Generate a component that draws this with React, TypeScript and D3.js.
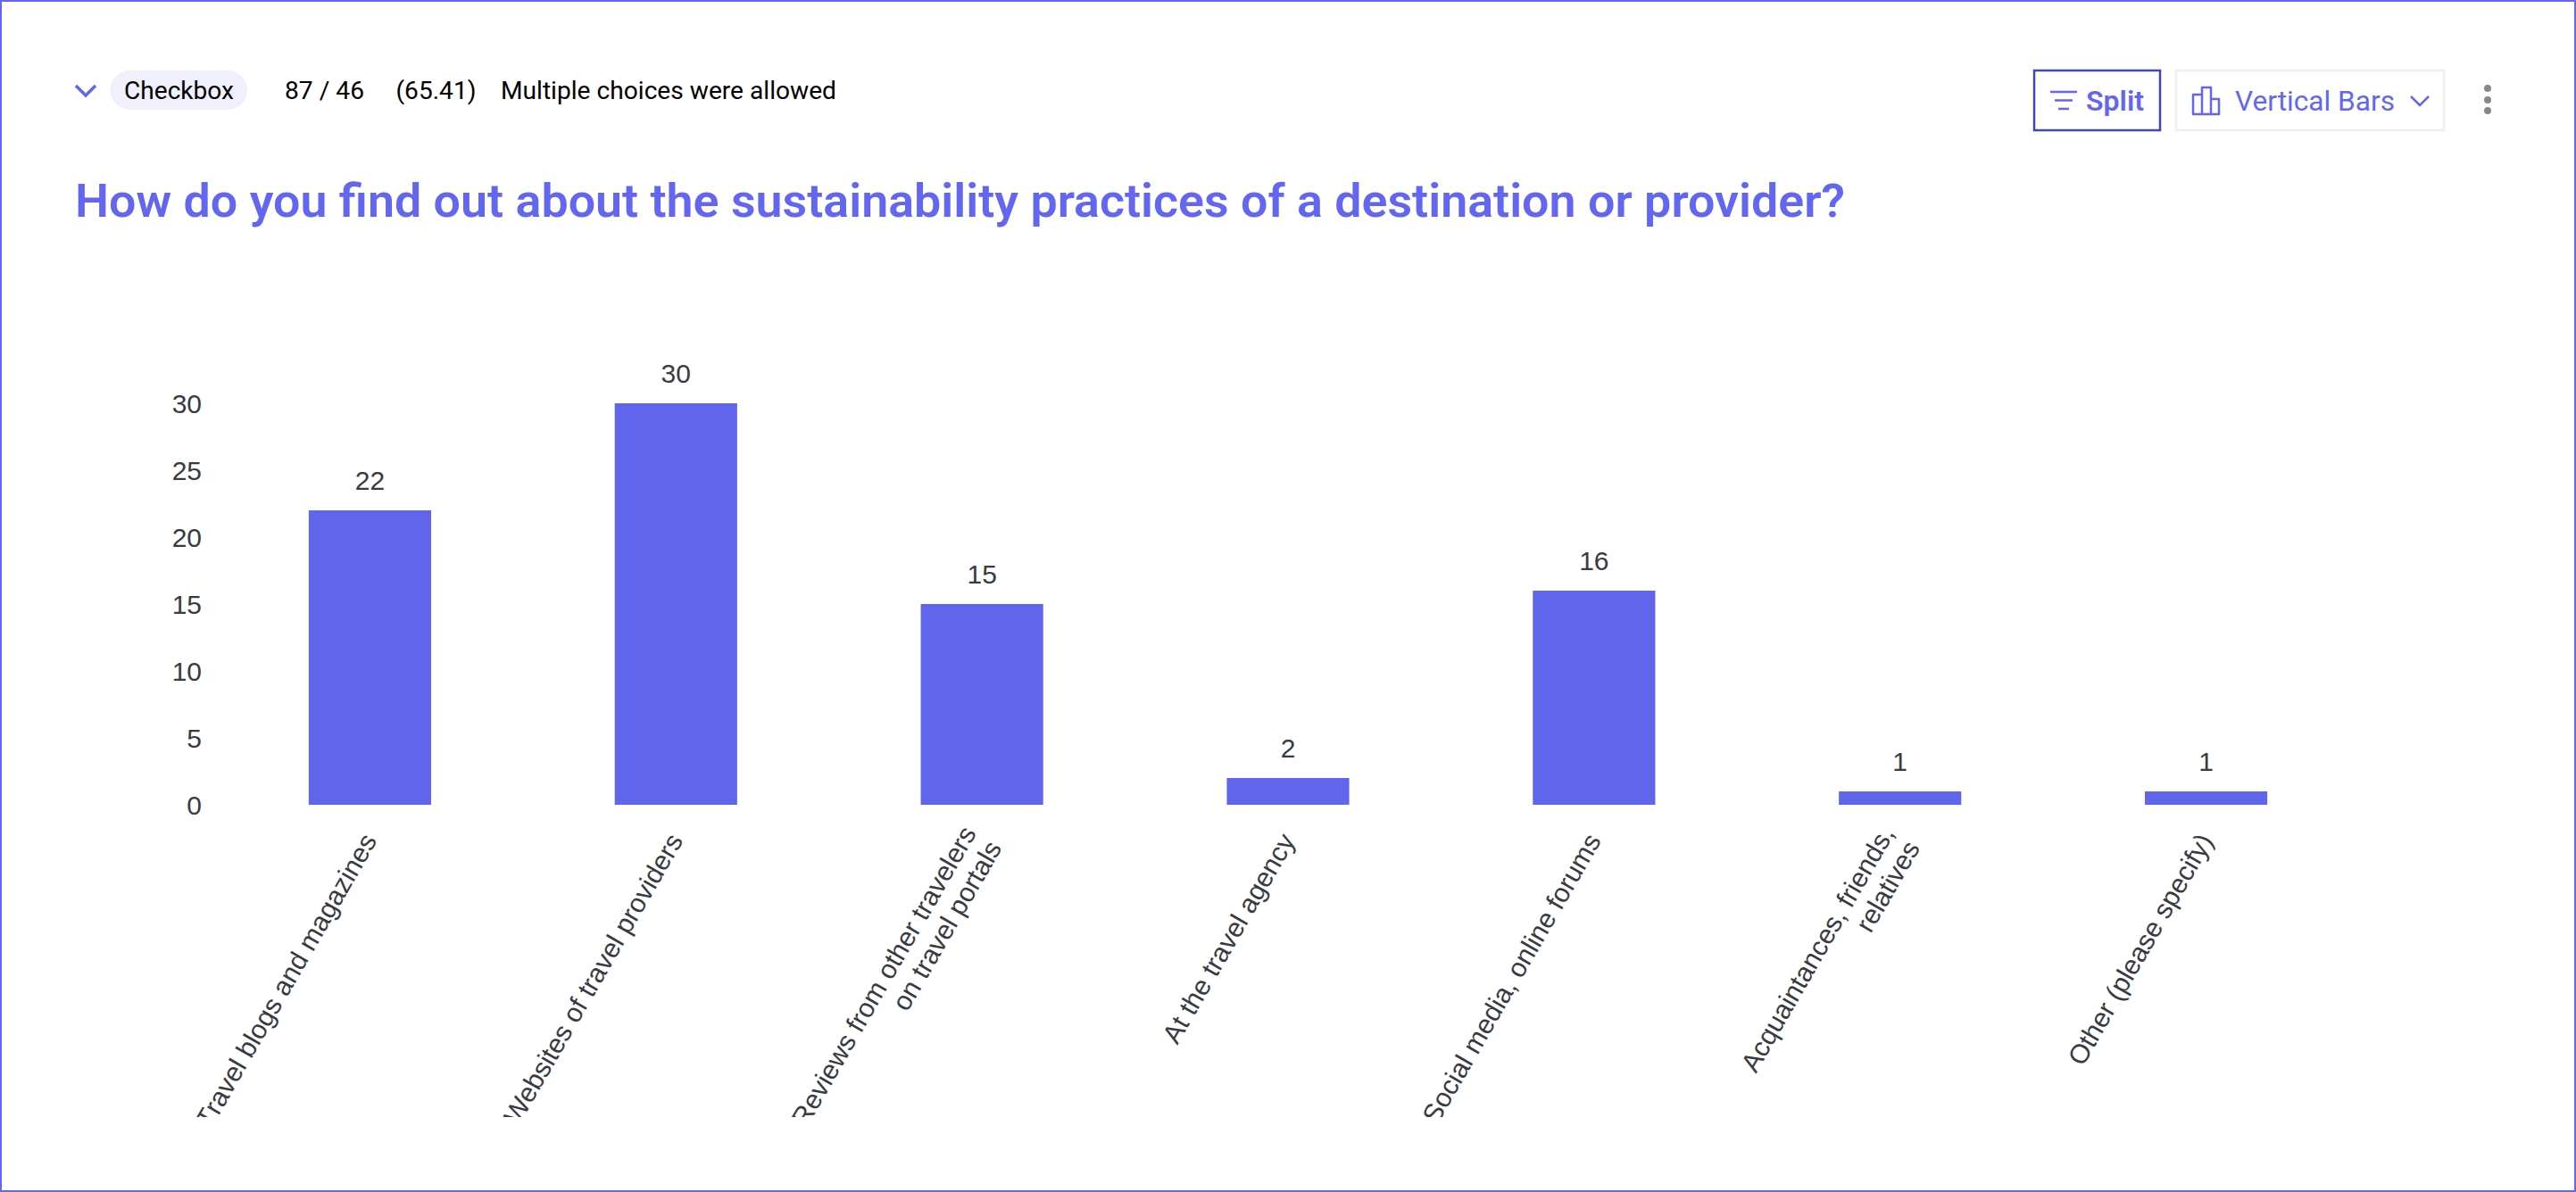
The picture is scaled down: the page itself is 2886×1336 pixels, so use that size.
import React from "react";
import * as d3 from "d3";

const categories: string[][] = [
  ["Travel blogs and magazines"],
  ["Websites of travel providers"],
  ["Reviews from other travelers", "on travel portals"],
  ["At the travel agency"],
  ["Social media, online forums"],
  ["Acquaintances, friends,", "relatives"],
  ["Other (please specify)"],
];
const seriesValues: number[] = [22, 30, 15, 2, 16, 1, 1];
const yTicks: number[] = [0, 5, 10, 15, 20, 25, 30];
const titleText = "How do you find out about the sustainability practices of a destination or provider?";

const W = 2886;
const H = 1336;
const ACCENT = "#6366F1";
const BAR = "#6165EC";
const INK = "#3A3A42";
const UI = "'Roboto', 'Noto Sans', sans-serif";
const CHART = "'Liberation Sans', Arial, sans-serif";
const ANGLE = -60;

export default function App() {
  const x = d3.scaleBand<number>().domain(d3.range(categories.length)).range([243, 2643]).paddingInner(0.6).paddingOuter(0.3);
  const y = d3.scaleLinear().domain([0, 30]).range([902, 452]);

  return (
    <svg width={W} height={H} viewBox={`0 0 ${W} ${H}`} style={{ position: "absolute", left: 0, top: 0, display: "block", background: "#fff" }}>
      <defs>
        <clipPath id="plot"><rect x={0} y={0} width={W} height={1252} /></clipPath>
      </defs>
      <rect x={1} y={1} width={W - 2} height={H - 2} fill="#fff" stroke={ACCENT} strokeWidth={2} />

      {/* header row */}
      <path d="M85 96 L96 107 L107 96" fill="none" stroke={ACCENT} strokeWidth={3.5} />
      <rect x={123.5} y={79} width={153.5} height={44} rx={22} fill="#EFF0FB" />
      <g fontFamily={UI} fontSize={28} fill="#000">
        <text x={139} y={111} textLength={123} lengthAdjust="spacingAndGlyphs">Checkbox</text>
        <text x={319} y={111} textLength={89} lengthAdjust="spacingAndGlyphs">87 / 46</text>
        <text x={443.5} y={111} textLength={90} lengthAdjust="spacingAndGlyphs">(65.41)</text>
        <text x={561} y={111} textLength={376} lengthAdjust="spacingAndGlyphs">Multiple choices were allowed</text>
      </g>
      <text x={84} y={243} fontFamily={UI} fontSize={52} fontWeight={600} fill={ACCENT} textLength={1983} lengthAdjust="spacingAndGlyphs">{titleText}</text>

      {/* toolbar */}
      <rect x={2279} y={79} width={141} height={67} fill="none" stroke="#4347B5" strokeWidth={2.5} />
      <g stroke={ACCENT} strokeWidth={2.5} fill="none">
        <path d="M2297 103 H2327 M2302 112.5 H2322 M2306 122 H2318" />
      </g>
      <text x={2337} y={124} fontFamily={UI} fontSize={31} fontWeight={600} fill={ACCENT} textLength={65} lengthAdjust="spacingAndGlyphs">Split</text>
      <rect x={2438} y={79} width={300} height={67} fill="none" stroke="#EEEEEE" strokeWidth={2.5} />
      <path d="M2457 128 V106 H2467 V128 Z M2467 128 V98 H2477 V128 Z M2477 128 V111 H2486 V128 Z" fill="none" stroke={ACCENT} strokeWidth={2.5} strokeLinejoin="round" />
      <text x={2504} y={124} fontFamily={UI} fontSize={31} fill={ACCENT} textLength={179} lengthAdjust="spacingAndGlyphs">Vertical Bars</text>
      <path d="M2701 108 L2711 118 L2721 108" fill="none" stroke={ACCENT} strokeWidth={2.5} />
      {[99, 112, 124].map((cy) => <circle key={cy} cx={2787} cy={cy} r={4} fill="#888888" />)}

      {/* y axis labels */}
      <g fontFamily={CHART} fontSize={30} fill={INK} textAnchor="end">
        {yTicks.map((t) => <text key={t} x={226} y={y(t) + 10.5}>{t}</text>)}
      </g>

      {/* bars and value labels */}
      {seriesValues.map((v, i) => (
        <g key={i}>
          <rect x={x(i)!} y={y(v)} width={x.bandwidth()} height={y(0) - y(v)} fill={BAR} />
          <text x={x(i)! + x.bandwidth() / 2} y={y(v) - 23} fontFamily={CHART} fontSize={30} fill={INK} textAnchor="middle">{v}</text>
        </g>
      ))}

      {/* rotated category labels */}
      <g clipPath="url(#plot)" fontFamily={CHART} fontSize={30} fill={INK} textAnchor="end">
        {categories.map((lines, i) => (
          <text key={i} transform={`translate(${x(i)! + x.bandwidth() / 2},937) rotate(${ANGLE})`}>
            {lines.map((l, j) => <tspan key={j} x={0} y={(j - (lines.length - 1) / 2) * 33 + 10}>{l}</tspan>)}
          </text>
        ))}
      </g>
    </svg>
  );
}
